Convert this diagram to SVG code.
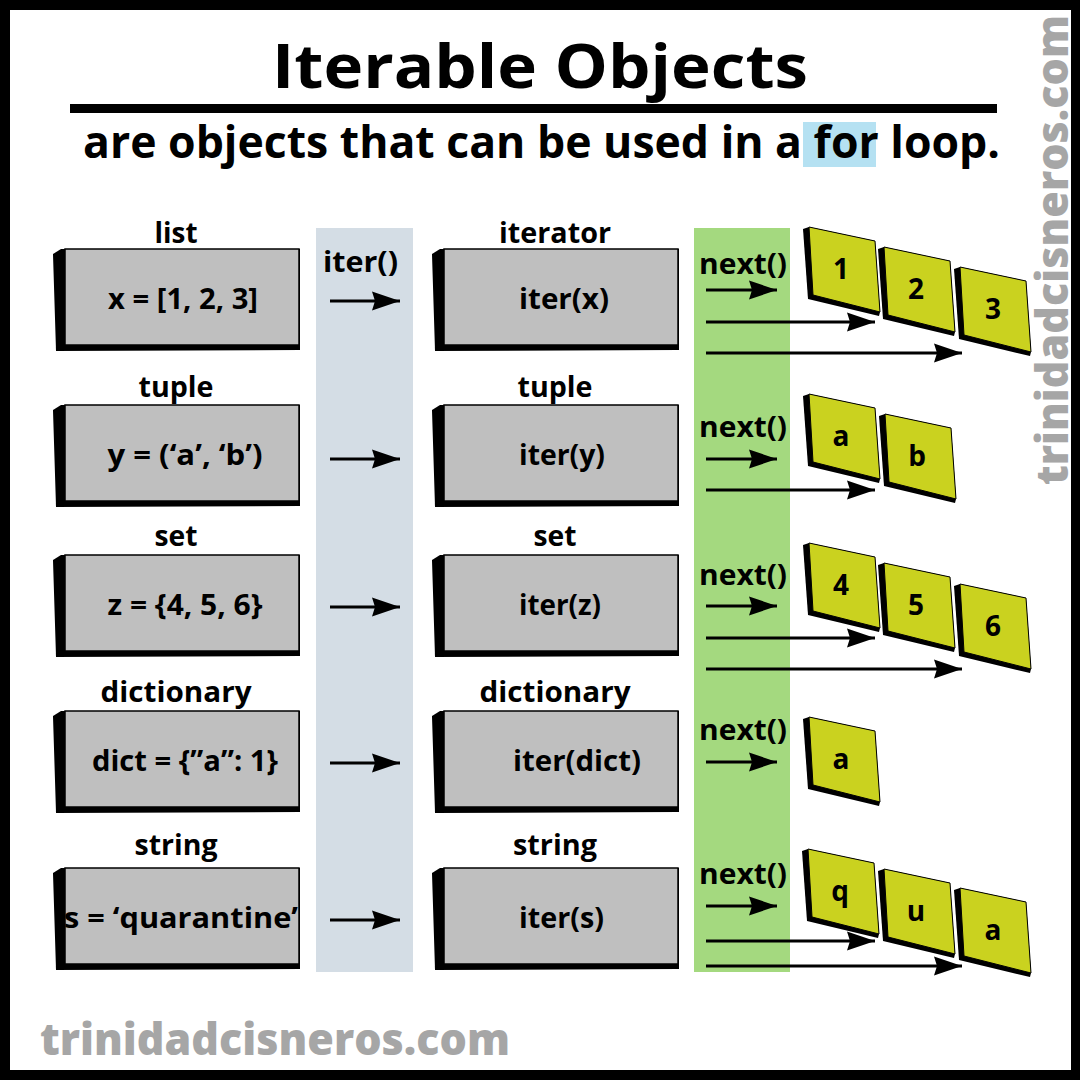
<svg xmlns="http://www.w3.org/2000/svg" xmlns:xlink="http://www.w3.org/1999/xlink" width="1080" height="1080" viewBox="0 0 1080 1080">
<style>
.t{font-family:"Open Sans","Liberation Sans",sans-serif;font-weight:700;fill:#000}
.lbl{font-size:29px;text-anchor:middle}
.bx{font-size:29px;text-anchor:middle}
.fn{font-size:29px}
.cd{font-size:28px;text-anchor:middle}
.wm{font-family:"Open Sans","DejaVu Sans",sans-serif;font-weight:800;font-size:44px;fill:#a6a6a6}
.ar{stroke:#000;stroke-width:3;fill:none;marker-end:url(#ah)}
</style>
<defs>
<marker id="ah" markerUnits="userSpaceOnUse" viewBox="0 0 28 20" refX="28" refY="10" markerWidth="28" markerHeight="20" orient="auto">
<path d="M0,0.5 L28,10 L0,19.5 L3,10 Z" fill="#000"/>
</marker>
<g id="box">
<path d="M0,5 L8,0 L247,0 L247,101 L3,102 Z" fill="#000"/>
<rect x="12" y="0" width="234" height="96" fill="#bfbfbf" stroke="#000" stroke-width="1.5"/>
</g>
<g id="card">
<polygon points="-6,2 0,0 66,14 71,85 70,89 -1,72" fill="#000"/>
<polygon points="0,0 66,14 71,85 4,68" fill="#cad21f" stroke="#000" stroke-width="1"/>
</g>
</defs>
<rect x="0" y="0" width="1080" height="1080" fill="#000"/>
<rect x="10" y="10" width="1061" height="1060" fill="#fff"/>

<g id="header">
<text class="t" x="272" y="88" font-size="60" textLength="536" lengthAdjust="spacingAndGlyphs">Iterable Objects</text>
<rect x="70" y="104" width="927" height="9" fill="#000"/>
<rect x="803" y="122" width="73" height="45" fill="#b5e1f2"/>
<text class="t" x="83" y="158" font-size="44" textLength="917" lengthAdjust="spacingAndGlyphs">are objects that can be used in a for loop.</text>
</g>

<g id="columns">
<rect x="316" y="228" width="97" height="744" fill="#d4dde5"/>
<rect x="694" y="228" width="96" height="744" fill="#a4d97f"/>
<text class="t fn" x="323" y="272" textLength="75" lengthAdjust="spacingAndGlyphs">iter()</text>
<text class="t fn" x="699" y="274" textLength="88" lengthAdjust="spacingAndGlyphs">next()</text>
<text class="t fn" x="699" y="437" textLength="88" lengthAdjust="spacingAndGlyphs">next()</text>
<text class="t fn" x="699" y="585" textLength="88" lengthAdjust="spacingAndGlyphs">next()</text>
<text class="t fn" x="699" y="740" textLength="88" lengthAdjust="spacingAndGlyphs">next()</text>
<text class="t fn" x="699" y="884" textLength="88" lengthAdjust="spacingAndGlyphs">next()</text>
</g>

<g id="list-node">
<text class="t lbl" x="176" y="243" textLength="43" lengthAdjust="spacingAndGlyphs">list</text>
<use xlink:href="#box" href="#box" transform="translate(53,249)"/>
<text class="t bx" x="183" y="309" textLength="150" lengthAdjust="spacingAndGlyphs">x = [1, 2, 3]</text>
</g>
<g id="list-iter-node">
<text class="t lbl" x="555" y="243" textLength="112" lengthAdjust="spacingAndGlyphs">iterator</text>
<use xlink:href="#box" href="#box" transform="translate(432,249)"/>
<text class="t fn" x="519" y="309" textLength="90" lengthAdjust="spacingAndGlyphs">iter(x)</text>
</g>

<g id="tuple-node">
<text class="t lbl" x="176" y="397" textLength="75" lengthAdjust="spacingAndGlyphs">tuple</text>
<use xlink:href="#box" href="#box" transform="translate(53,405)"/>
<text class="t bx" x="185" y="465" textLength="155" lengthAdjust="spacingAndGlyphs">y = (‘a’, ‘b’)</text>
</g>
<g id="tuple-iter-node">
<text class="t lbl" x="555" y="397" textLength="75" lengthAdjust="spacingAndGlyphs">tuple</text>
<use xlink:href="#box" href="#box" transform="translate(432,405)"/>
<text class="t fn" x="519" y="465" textLength="86" lengthAdjust="spacingAndGlyphs">iter(y)</text>
</g>

<g id="set-node">
<text class="t lbl" x="176" y="546" textLength="43" lengthAdjust="spacingAndGlyphs">set</text>
<use xlink:href="#box" href="#box" transform="translate(53,555)"/>
<text class="t bx" x="185" y="615" textLength="155" lengthAdjust="spacingAndGlyphs">z = {4, 5, 6}</text>
</g>
<g id="set-iter-node">
<text class="t lbl" x="555" y="546" textLength="43" lengthAdjust="spacingAndGlyphs">set</text>
<use xlink:href="#box" href="#box" transform="translate(432,555)"/>
<text class="t fn" x="519" y="615" textLength="82" lengthAdjust="spacingAndGlyphs">iter(z)</text>
</g>

<g id="dict-node">
<text class="t lbl" x="176" y="702" textLength="151" lengthAdjust="spacingAndGlyphs">dictionary</text>
<use xlink:href="#box" href="#box" transform="translate(53,711)"/>
<text class="t bx" x="185" y="771" textLength="186" lengthAdjust="spacingAndGlyphs">dict = {”a”: 1}</text>
</g>
<g id="dict-iter-node">
<text class="t lbl" x="555" y="702" textLength="151" lengthAdjust="spacingAndGlyphs">dictionary</text>
<use xlink:href="#box" href="#box" transform="translate(432,711)"/>
<text class="t fn" x="513" y="771" textLength="128" lengthAdjust="spacingAndGlyphs">iter(dict)</text>
</g>

<g id="string-node">
<text class="t lbl" x="176" y="855" textLength="83" lengthAdjust="spacingAndGlyphs">string</text>
<use xlink:href="#box" href="#box" transform="translate(53,868)"/>
<text class="t bx" x="181" y="928" textLength="234" lengthAdjust="spacingAndGlyphs">s = ‘quarantine’</text>
</g>
<g id="string-iter-node">
<text class="t lbl" x="555" y="855" textLength="84" lengthAdjust="spacingAndGlyphs">string</text>
<use xlink:href="#box" href="#box" transform="translate(432,868)"/>
<text class="t fn" x="519" y="928" textLength="85" lengthAdjust="spacingAndGlyphs">iter(s)</text>
</g>

<g id="cards">
<g id="card-list-1" transform="translate(809,227)"><use xlink:href="#card" href="#card"/><text class="t cd" x="32" y="52">1</text></g>
<g id="card-list-2" transform="translate(884,247)"><use xlink:href="#card" href="#card"/><text class="t cd" x="32" y="52">2</text></g>
<g id="card-list-3" transform="translate(960,267)"><use xlink:href="#card" href="#card"/><text class="t cd" x="33" y="52">3</text></g>
<g id="card-tuple-1" transform="translate(809,394)"><use xlink:href="#card" href="#card"/><text class="t cd" x="32" y="52">a</text></g>
<g id="card-tuple-2" transform="translate(885,414)"><use xlink:href="#card" href="#card"/><text class="t cd" x="32" y="52">b</text></g>
<g id="card-set-1" transform="translate(809,543)"><use xlink:href="#card" href="#card"/><text class="t cd" x="32" y="52">4</text></g>
<g id="card-set-2" transform="translate(884,563)"><use xlink:href="#card" href="#card"/><text class="t cd" x="32" y="52">5</text></g>
<g id="card-set-3" transform="translate(960,584)"><use xlink:href="#card" href="#card"/><text class="t cd" x="33" y="52">6</text></g>
<g id="card-dict-1" transform="translate(809,717)"><use xlink:href="#card" href="#card"/><text class="t cd" x="32" y="52">a</text></g>
<g id="card-string-1" transform="translate(808,849)"><use xlink:href="#card" href="#card"/><text class="t cd" x="32" y="52">q</text></g>
<g id="card-string-2" transform="translate(884,869)"><use xlink:href="#card" href="#card"/><text class="t cd" x="32" y="52">u</text></g>
<g id="card-string-3" transform="translate(960,888)"><use xlink:href="#card" href="#card"/><text class="t cd" x="33" y="52">a</text></g>
</g>

<g id="connectors">
<line class="ar" x1="330" y1="301" x2="400" y2="301"/>
<line class="ar" x1="330" y1="459" x2="400" y2="459"/>
<line class="ar" x1="330" y1="607" x2="400" y2="607"/>
<line class="ar" x1="330" y1="763" x2="400" y2="763"/>
<line class="ar" x1="330" y1="920" x2="400" y2="920"/>

<line class="ar" x1="706" y1="290" x2="777" y2="290"/>
<line class="ar" x1="706" y1="322" x2="875" y2="322"/>
<line class="ar" x1="706" y1="353" x2="962" y2="353"/>
<line class="ar" x1="706" y1="459" x2="777" y2="459"/>
<line class="ar" x1="706" y1="490" x2="875" y2="490"/>
<line class="ar" x1="706" y1="606" x2="777" y2="606"/>
<line class="ar" x1="706" y1="638" x2="875" y2="638"/>
<line class="ar" x1="706" y1="669" x2="962" y2="669"/>
<line class="ar" x1="706" y1="762" x2="777" y2="762"/>
<line class="ar" x1="706" y1="906" x2="777" y2="906"/>
<line class="ar" x1="706" y1="941" x2="875" y2="941"/>
<line class="ar" x1="706" y1="966" x2="962" y2="966"/>
</g>

<g id="watermarks">
<text class="wm" x="40" y="1055" textLength="470" lengthAdjust="spacingAndGlyphs">trinidadcisneros.com</text>
<text class="wm" transform="translate(1068,485) rotate(-90)" x="0" y="0" textLength="470" lengthAdjust="spacingAndGlyphs">trinidadcisneros.com</text>
</g>
</svg>
